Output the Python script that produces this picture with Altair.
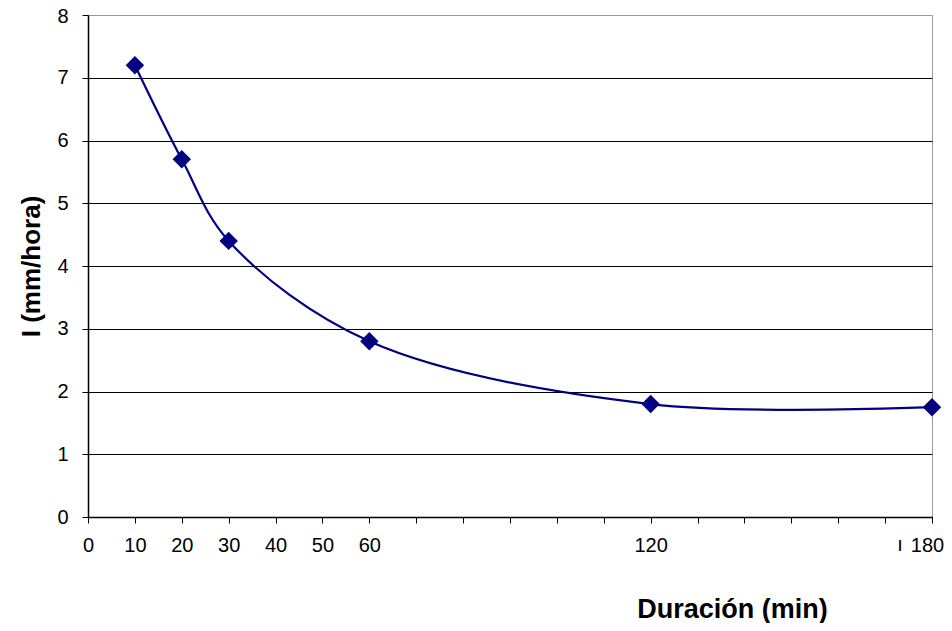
import altair as alt
import pandas as pd

duracion = [10, 20, 30, 60, 120, 180]
intensidad = [7.2, 5.7, 4.4, 2.8, 1.8, 1.75]
x_ticks = list(range(0, 190, 10))
x_labels = [0, 10, 20, 30, 40, 50, 60, 120, 180]
y_ticks = list(range(0, 9))

df = pd.DataFrame({"d": duracion, "i": intensidad})
label_test = " || ".join(f"datum.value == {v}" for v in x_labels)

x_enc = alt.X(
    "d:Q",
    scale=alt.Scale(domain=[0, 180], nice=False, zero=True),
    axis=alt.Axis(
        values=x_ticks,
        labelExpr=f"({label_test}) ? datum.label : ''",
        labelOffset={"condition": {"test": "datum.value == 180", "value": -5}, "value": 0},
        title="Duración (min)",
        titleFont="Liberation Sans",
        titleFontSize=27,
        titleFontWeight="bold",
        titleColor="black",
        titleX=644,
        titleY=100,
        titleAlign="center",
        titleBaseline="alphabetic",
        labelFont="Liberation Sans",
        labelFontSize=20,
        labelColor="black",
        labelPadding=12,
        labelFlush=False,
        labelOverlap=False,
        tickColor="black",
        tickSize=6,
        domainColor="black",
        domainWidth=1.5,
        grid=False,
    ),
)
y_enc = alt.Y(
    "i:Q",
    scale=alt.Scale(domain=[0, 8], nice=False),
    axis=alt.Axis(
        values=y_ticks,
        format="d",
        labelOffset={"condition": {"test": "datum.value == 8", "value": 1.5}, "value": 0},
        title="I (mm/hora)",
        titleFont="Liberation Sans",
        titleFontSize=26,
        titleFontWeight="bold",
        titleColor="black",
        titlePadding=12,
        labelFont="Liberation Sans",
        labelFontSize=20,
        labelColor="black",
        labelPadding=14,
        labelFlush=False,
        tickColor="black",
        tickSize=6,
        domainColor="black",
        domainWidth=1.5,
        grid=True,
        gridColor={"condition": {"test": "datum.value == 8", "value": "#999999"}, "value": "black"},
        gridWidth=1,
        gridOpacity=1,
    ),
)

line = alt.Chart(df).mark_line(
    color="#000080", strokeWidth=2.2, interpolate="catmull-rom"
).encode(x=x_enc, y=y_enc)

pts = alt.Chart(df).mark_point(
    shape="diamond", filled=True, color="#000080", size=340, opacity=1
).encode(x="d:Q", y="i:Q")

stray = alt.Chart(pd.DataFrame({"d": [173.2], "t": ["ı"]})).mark_text(
    font="Liberation Sans", fontSize=20, color="black", baseline="middle", align="center"
).encode(x="d:Q", y=alt.value(530), text="t:N")

chart = alt.layer(line, pts, stray).properties(
    width=844,
    height=502,
    autosize="none",
    padding={"left": 80, "top": 7, "right": 12, "bottom": 106},
    background="white",
).configure_view(stroke="#999999", strokeWidth=1)

chart.save("out.html", embed_options={"renderer": "svg", "actions": False})
